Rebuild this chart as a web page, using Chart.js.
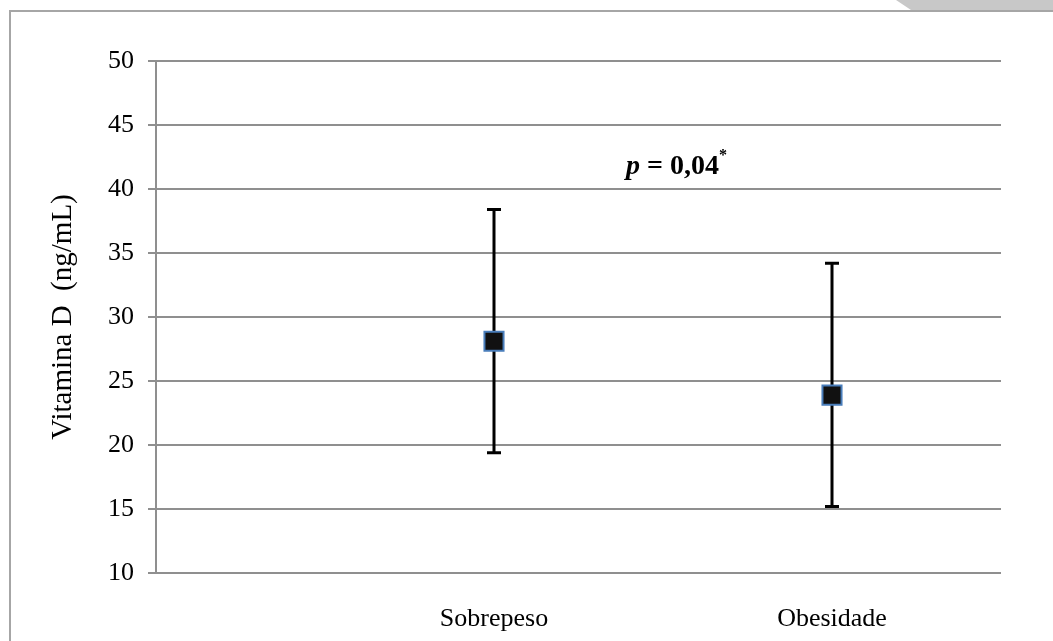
<!DOCTYPE html>
<html>
<head>
<meta charset="utf-8">
<script src="https://cdn.jsdelivr.net/npm/chart.js@4.4.1/dist/chart.umd.min.js"></script>
<style>
  html, body { margin: 0; padding: 0; background: #fff; }
  #wrap { position: relative; width: 1053px; height: 641px; overflow: hidden; }
  #frame {
    position: absolute; left: 9px; top: 10px; right: -5px; bottom: -5px;
    border-left: 2px solid #a6a6a6; border-top: 2px solid #a6a6a6;
  }
  #curl {
    position: absolute; left: 896px; top: 0; width: 157px; height: 10px;
    background: #c8c8c8;
    clip-path: polygon(0 0, 100% 0, 100% 100%, 15px 100%);
  }
  canvas { position: absolute; left: 0; top: 0; }
</style>
</head>
<body>
<div id="wrap">
  <div id="frame"></div>
  <div id="curl"></div>
  <canvas id="chart" width="1053" height="641"></canvas>
</div>
<script>
/* global Chart */

const categories = ['Sobrepeso', 'Obesidade'];
const xPositions = [1, 2];
const means = [28.1, 23.9];
const upper = [38.4, 34.2];
const lower = [19.4, 15.2];
const yTicks = [10, 15, 20, 25, 30, 35, 40, 45, 50];
const annotationPos = { x: 1.54, y: 41.7 };

const serif = '"Liberation Serif", "Times New Roman", serif';

// ---------- Plugins ----------

const errorBars = {
  id: 'errorBars',
  beforeDatasetsDraw(chart) {
    const { ctx, scales: { x, y } } = chart;
    ctx.save();
    ctx.strokeStyle = '#000';
    ctx.lineWidth = 3;
    xPositions.forEach((v, i) => {
      const px = x.getPixelForValue(v);
      const top = y.getPixelForValue(upper[i]);
      const bot = y.getPixelForValue(lower[i]);
      ctx.beginPath();
      ctx.moveTo(px, top); ctx.lineTo(px, bot);
      ctx.moveTo(px - 7, top); ctx.lineTo(px + 7, top);
      ctx.moveTo(px - 7, bot); ctx.lineTo(px + 7, bot);
      ctx.stroke();
    });
    ctx.restore();
  },
};

const pValue = {
  id: 'pValue',
  afterDatasetsDraw(chart) {
    const { ctx, scales: { x, y } } = chart;
    const parts = [
      { text: 'p', font: `italic bold 28px ${serif}`, dy: 0 },
      { text: ' = 0,04', font: `bold 28px ${serif}`, dy: 0 },
      { text: '*', font: `bold 16px ${serif}`, dy: -11 },
    ];
    ctx.save();
    ctx.fillStyle = '#000';
    ctx.textBaseline = 'middle';
    let total = 0;
    parts.forEach(p => { ctx.font = p.font; total += ctx.measureText(p.text).width; });
    let cx = x.getPixelForValue(annotationPos.x) - total / 2;
    const cy = y.getPixelForValue(annotationPos.y);
    parts.forEach(p => {
      ctx.font = p.font;
      ctx.textAlign = 'left';
      ctx.fillText(p.text, cx, cy + p.dy);
      cx += ctx.measureText(p.text).width;
    });
    ctx.restore();
  },
};

// ---------- Chart ----------

new Chart(document.getElementById('chart'), {
  type: 'scatter',
  data: {
    datasets: [{
      label: 'Vitamina D',
      data: xPositions.map((x, i) => ({ x, y: means[i] })),
      pointStyle: 'rect',
      pointRadius: 13.5,
      pointHoverRadius: 13.5,
      pointBackgroundColor: '#111111',
      pointBorderColor: '#4a7ebb',
      pointBorderWidth: 2,
    }],
  },
  options: {
    responsive: false,
    animation: false,
    events: [],
    layout: { padding: { left: 46, right: 52, top: 61, bottom: 0 } },
    plugins: {
      legend: { display: false },
      tooltip: { enabled: false },
    },
    scales: {
      x: {
        type: 'linear',
        min: 0,
        max: 2.5,
        grid: { display: false, drawTicks: false },
        border: { display: false },
        afterBuildTicks: (scale) => { scale.ticks = xPositions.map(v => ({ value: v })); },
        afterFit: (scale) => { scale.height = 68; },
        ticks: {
          color: '#000',
          padding: 31,
          maxRotation: 0,
          font: { family: serif, size: 26 },
          callback: (value) => categories[xPositions.indexOf(value)] || '',
        },
      },
      y: {
        min: 10,
        max: 50,
        afterBuildTicks: (scale) => { scale.ticks = yTicks.map(v => ({ value: v })); },
        afterFit: (scale) => { scale.width = 156 - 46; },
        grid: { color: '#8f8f8f', lineWidth: 2, tickLength: 8 },
        border: { color: '#8f8f8f', width: 2 },
        ticks: {
          color: '#000',
          padding: 14,
          font: { family: serif, size: 26 },
        },
        title: {
          display: true,
          text: 'Vitamina D  (ng/mL)',
          color: '#000',
          padding: { top: 0, bottom: 0 },
          font: { family: serif, size: 29 },
        },
      },
    },
  },
  plugins: [errorBars, pValue],
});
</script>
</body>
</html>
